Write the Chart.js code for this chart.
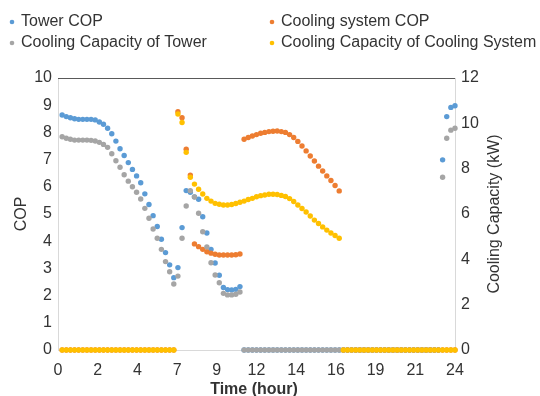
<!DOCTYPE html>
<html>
<head>
<meta charset="utf-8">
<script src="https://cdn.jsdelivr.net/npm/chart.js@4"></script>
<style>
  html, body { margin: 0; padding: 0; background: #fff; }
</style>
</head>
<body>
<canvas id="chart" width="540" height="396"></canvas>
<script>
// 15-minute samples, t = 0.25 ... 24 h
const hours = Array.from({ length: 96 }, (_, i) => (i + 1) / 4);

const xTickValues = [0, 2.4, 4.8, 7.2, 9.6, 12, 14.4, 16.8, 19.2, 21.6, 24];
const xTickLabels = ['0', '2', '4', '7', '9', '12', '14', '16', '19', '21', '24'];

// COP (left axis)
const towerCop = [
  8.64, 8.58, 8.54, 8.50, 8.48, 8.48, 8.48, 8.48, 8.46, 8.38, 8.30, 8.15,
  7.95, 7.68, 7.40, 7.15, 6.89, 6.64, 6.40, 6.15, 5.74, 5.35, 4.94, 4.54, 4.07, 3.58, 3.13, 2.66, 3.03,
  4.50, 5.86, 5.80, 5.63, 5.54, 4.90, 4.30, 3.70, 3.20, 2.75, 2.30, 2.22, 2.21, 2.23, 2.33,
  0, 0, 0, 0, 0, 0, 0, 0, 0, 0, 0, 0, 0, 0, 0, 0, 0, 0, 0, 0, 0, 0, 0, 0,
  0, 0, 0, 0, 0, 0, 0, 0, 0, 0, 0, 0, 0, 0, 0, 0, 0, 0, 0, 0, 0, 0, 0, 0,
  6.99, 8.58, 8.92, 8.98
];
const systemCop = [
  0, 0, 0, 0, 0, 0, 0, 0, 0, 0, 0, 0, 0, 0, 0, 0, 0, 0, 0, 0, 0, 0, 0, 0, 0, 0, 0, 0,
  8.76, 8.54, 7.38, 6.43,
  3.90, 3.80, 3.70, 3.61, 3.56, 3.52, 3.49, 3.49, 3.49, 3.49, 3.50, 3.53,
  7.75, 7.81, 7.87, 7.92, 7.97, 8.00, 8.03, 8.04, 8.05, 8.03, 8.00, 7.92,
  7.81, 7.67, 7.50, 7.32, 7.13, 6.95, 6.76, 6.58, 6.40, 6.23, 6.05, 5.85,
  0, 0, 0, 0, 0, 0, 0, 0, 0, 0, 0, 0, 0, 0, 0, 0, 0, 0, 0, 0, 0, 0, 0, 0, 0, 0, 0, 0
];

// Cooling capacity in kW (right axis)
const towerCap = [
  9.41, 9.34, 9.30, 9.26, 9.26, 9.26, 9.26, 9.25, 9.22, 9.16, 9.07, 8.94,
  8.66, 8.35, 8.06, 7.73, 7.45, 7.20, 6.96, 6.66, 6.25, 5.81, 5.34, 4.93, 4.44, 3.90, 3.45, 2.91, 3.26,
  4.93, 6.35, 7.03, 6.75, 6.03, 5.22, 4.55, 3.85, 3.31, 2.97, 2.50, 2.43, 2.43, 2.46, 2.56,
  0, 0, 0, 0, 0, 0, 0, 0, 0, 0, 0, 0, 0, 0, 0, 0, 0, 0, 0, 0, 0, 0, 0, 0,
  0, 0, 0, 0, 0, 0, 0, 0, 0, 0, 0, 0, 0, 0, 0, 0, 0, 0, 0, 0, 0, 0, 0, 0,
  7.62, 9.34, 9.70, 9.78
];
const systemCap = [
  0, 0, 0, 0, 0, 0, 0, 0, 0, 0, 0, 0, 0, 0, 0, 0, 0, 0, 0, 0, 0, 0, 0, 0, 0, 0, 0, 0,
  10.41, 10.04, 8.72, 7.62, 7.32, 7.09, 6.88, 6.69, 6.57, 6.47, 6.43, 6.40,
  6.40, 6.42, 6.46, 6.52, 6.57, 6.64, 6.69, 6.76, 6.81, 6.84, 6.87, 6.87,
  6.86, 6.82, 6.77, 6.68, 6.55, 6.40, 6.24, 6.09, 5.91, 5.73, 5.58, 5.43,
  5.29, 5.16, 5.05, 4.93,
  0, 0, 0, 0, 0, 0, 0, 0, 0, 0, 0, 0, 0, 0, 0, 0, 0, 0, 0, 0, 0, 0, 0, 0, 0, 0, 0, 0
];

const seriesNames = ['Tower COP', 'Cooling system COP', 'Cooling Capacity of Tower', 'Cooling Capacity of Cooling System'];
const colours = ['#5B9BD5', '#ED7D31', '#A5A5A5', '#FFC000'];

const fontFamily = "'Liberation Sans', Arial, sans-serif";
const textColour = '#333333';

function points(values) {
    return hours.map((h, i) => ({ x: h, y: values[i] }));
}

function series(i, values, axis) {
    return {
        label: seriesNames[i],
        data: points(values),
        yAxisID: axis,
        backgroundColor: colours[i],
        borderColor: colours[i],
        pointRadius: 2.7,
        pointBorderWidth: 0,
        pointHoverRadius: 2.7,
        showLine: false,
        clip: false,
        order: 4 - i  // later series drawn on top, like the original
    };
}

// legend laid out in two columns, plus the axis titles
const decorations = {
    id: 'decorations',
    afterDraw(chart) {
        const ctx = chart.ctx;
        const a = chart.chartArea;
        ctx.save();

        // dark frame line along the top of the plot
        ctx.strokeStyle = '#595959';
        ctx.lineWidth = 1;
        ctx.beginPath();
        ctx.moveTo(a.left, Math.round(a.top) + 0.5);
        ctx.lineTo(a.right, Math.round(a.top) + 0.5);
        ctx.stroke();

        // legend
        const colX = [12, 272];
        const rowY = [22, 43];
        ctx.font = '16px ' + fontFamily;
        ctx.textBaseline = 'middle';
        ctx.textAlign = 'left';
        chart.data.datasets.forEach((ds, i) => {
            const x = colX[i % 2];
            const y = rowY[Math.floor(i / 2)];
            ctx.fillStyle = ds.backgroundColor;
            ctx.beginPath();
            ctx.arc(x, y, 2.3, 0, Math.PI * 2);
            ctx.fill();
            ctx.fillStyle = textColour;
            ctx.fillText(ds.label, x + 9, y);
        });

        // axis titles
        const midY = (a.top + a.bottom) / 2;
        ctx.fillStyle = textColour;
        ctx.textAlign = 'center';
        ctx.font = '16px ' + fontFamily;
        ctx.save();
        ctx.translate(22, midY);
        ctx.rotate(-Math.PI / 2);
        ctx.fillText('COP', 0, 0);
        ctx.restore();
        ctx.save();
        ctx.translate(495, midY);
        ctx.rotate(-Math.PI / 2);
        ctx.fillText('Cooling Capacity (kW)', 0, 0);
        ctx.restore();

        ctx.font = 'bold 16px ' + fontFamily;
        ctx.fillText('Time (hour)', 254, 390);
        ctx.restore();
    }
};

const config = {
    type: 'scatter',
    data: {
        datasets: [
            series(0, towerCop, 'yCop'),
            series(1, systemCop, 'yCop'),
            series(2, towerCap, 'yCap'),
            series(3, systemCap, 'yCap')
        ]
    },
    options: {
        responsive: false,
        animation: false,
        events: [],
        layout: { padding: { top: 78, left: 0, right: 0, bottom: 0 } },
        plugins: {
            legend: { display: false },
            tooltip: { enabled: false }
        },
        scales: {
            x: {
                type: 'linear',
                min: 0,
                max: 24,
                afterBuildTicks: (scale) => {
                    scale.ticks = xTickValues.map((v) => ({ value: v }));
                },
                afterFit: (scale) => { scale.height = 46; },
                grid: { display: false, drawTicks: false },
                border: { display: true, color: '#D9D9D9', width: 1 },
                ticks: {
                    maxRotation: 0,
                    autoSkip: false,
                    padding: 11,
                    color: textColour,
                    font: { family: fontFamily, size: 16 },
                    callback: (value, index) => xTickLabels[index]
                }
            },
            yCop: {
                position: 'left',
                min: 0,
                max: 10,
                afterFit: (scale) => { scale.width = 58; },
                grid: { display: false, drawTicks: false },
                border: { display: true, color: '#D9D9D9', width: 1 },
                ticks: {
                    stepSize: 1,
                    padding: 6,
                    color: textColour,
                    font: { family: fontFamily, size: 16 }
                }
            },
            yCap: {
                position: 'right',
                min: 0,
                max: 12,
                afterFit: (scale) => { scale.width = 85; },
                grid: { display: false, drawTicks: false },
                border: { display: true, color: '#D9D9D9', width: 1 },
                ticks: {
                    stepSize: 2,
                    padding: 6,
                    color: textColour,
                    font: { family: fontFamily, size: 16 }
                }
            }
        }
    },
    plugins: [decorations]
};

const chart = new Chart(document.getElementById('chart'), config);
</script>
</body>
</html>
